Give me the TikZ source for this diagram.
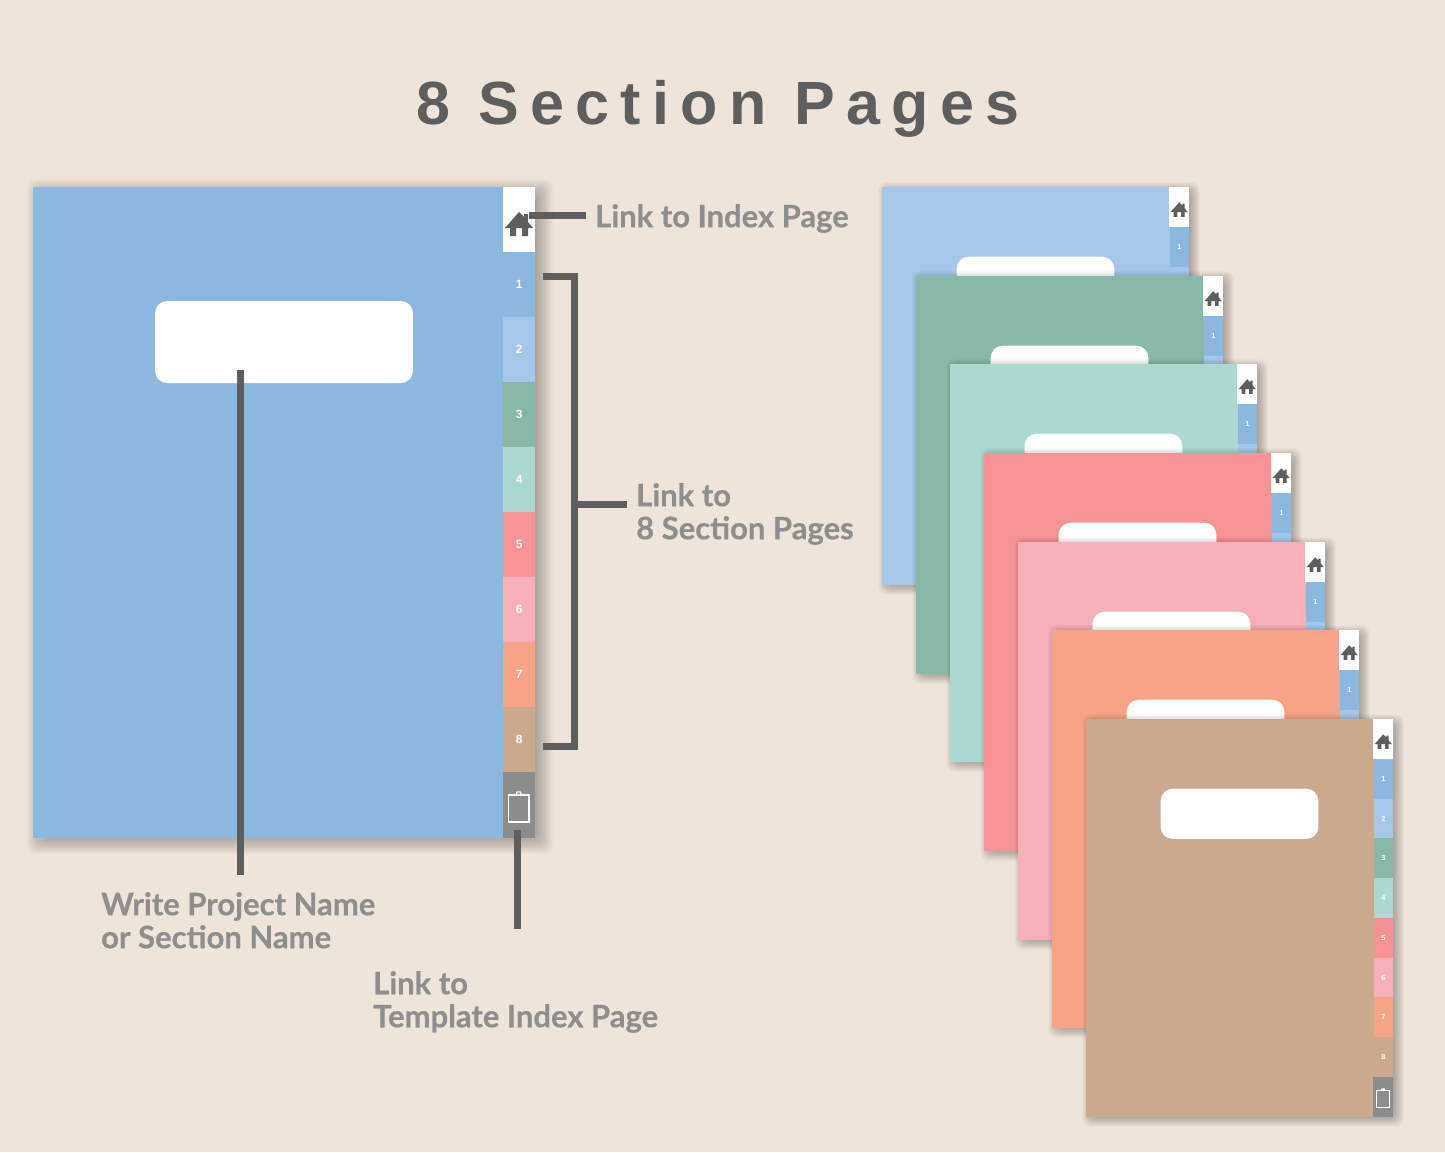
\documentclass[tikz,border=0pt]{standalone}
\usepackage{fontspec}
\setmainfont{Lato}[BoldFeatures={FakeBold=0.5}]
\newfontfamily\titlefont[LetterSpace=18.5]{Liberation Sans}
\newfontfamily\numfont{Liberation Sans}
\definecolor{bgcol}{HTML}{EFE4DA}
\definecolor{bluecol}{HTML}{8AB8DE}
\definecolor{skycol}{HTML}{A5C6E9}
\definecolor{greencol}{HTML}{87B8A8}
\definecolor{mintcol}{HTML}{ABD8D0}
\definecolor{redcol}{HTML}{F59396}
\definecolor{pinkcol}{HTML}{F5B0BA}
\definecolor{orangecol}{HTML}{F7A387}
\definecolor{tancol}{HTML}{CBA98C}
\definecolor{greycol}{HTML}{8C8C8C}
\definecolor{darkcol}{HTML}{5E5E5E}
\definecolor{labelcol}{HTML}{8E8E8E}
\tikzset{
  leader/.style={draw=darkcol,line width=7pt},
  labeltext/.style={text=labelcol,align=left,anchor=north west,inner sep=0pt,font=\fontsize{31}{33}\selectfont\bfseries},
  tabbox/.style={anchor=north west,inner sep=0pt,minimum width=32pt,minimum height=65pt,text=white,font=\fontsize{12}{12}\selectfont\numfont\bfseries}
}
% one section page, drawn at full size: x, y, scale, colour
\newcommand{\sectionpage}[4]{
  \begin{scope}[shift={(#1,-#2)},scale=#3,transform shape]
    \foreach \i in {-5,...,12}
      \fill[black,opacity=.014,rounded corners=8pt] (6-\i,-4+\i) rectangle (508+\i,-655-\i);
    \fill[#4] (0,0) rectangle (502,-651);
    \fill[white,rounded corners=12pt] (122,-114) rectangle (380,-196);
    \fill[white] (470,0) rectangle (502,-65);
    % home icon
    \fill[darkcol] (472,-41) -- (486,-25) -- (491,-30) -- (491,-27) -- (495,-27) -- (495,-35) -- (500,-41) -- (495,-41)
      -- (495,-49) -- (489,-49) -- (489,-41) -- (483,-41) -- (483,-49) -- (477,-49) -- (477,-41) -- cycle;
    \foreach \n/\tabcol in {1/bluecol,2/skycol,3/greencol,4/mintcol,5/redcol,6/pinkcol,7/orangecol,8/tancol}
      \node[tabbox,fill=\tabcol] at (470,-65*\n) {\n};
    \fill[greycol] (470,-585) rectangle (502,-651);
    % clipboard icon
    \draw[white,line width=1.3pt] (475.5,-608) rectangle (496,-635);
    \draw[white,line width=1.2pt] (483,-608) -- (484,-605) -- (487.5,-605) -- (488.5,-608);
  \end{scope}
}
\begin{document}
\begin{tikzpicture}[x=1pt,y=1pt]
  \useasboundingbox (0,0) rectangle (1445,-1152);
  \fill[bgcol] (0,0) rectangle (1445,-1152);
  \node (title) at (718,-109) {\titlefont\fontsize{61}{61}\selectfont\bfseries\color{darkcol}8 Section Pages};

  \sectionpage{33}{187}{1}{bluecol}
  \sectionpage{882}{187}{.6115}{skycol}
  \sectionpage{916}{276}{.6115}{greencol}
  \sectionpage{950}{364}{.6115}{mintcol}
  \sectionpage{984}{453}{.6115}{redcol}
  \sectionpage{1018}{542}{.6115}{pinkcol}
  \sectionpage{1052}{630}{.6115}{orangecol}
  \sectionpage{1086}{719}{.6115}{tancol}

  \node[labeltext] (indexlabel) at (595,-204) {Link to Index Page};
  \node[labeltext] (sectionlabel) at (636,-483) {Link to\\8 Section Pages};
  \node[labeltext] (projectlabel) at (101,-892) {Write Project Name\\or Section Name};
  \node[labeltext] (templatelabel) at (373,-971) {Link to\\Template Index Page};

  \coordinate (homeA) at (529,-215);
  \coordinate (homeB) at (586,-215);
  \coordinate (brackA) at (543,-276.5);
  \coordinate (brackB) at (574,-276.5);
  \coordinate (brackC) at (574,-746);
  \coordinate (brackD) at (543,-746);
  \coordinate (stemA) at (574,-504);
  \coordinate (stemB) at (627,-504);
  \coordinate (projA) at (240,-370);
  \coordinate (projB) at (240,-875);
  \coordinate (tempA) at (517,-830);
  \coordinate (tempB) at (517,-929);
  \draw[leader] (homeA) -- (homeB);
  \draw[leader] (brackA) -- (brackB) -- (brackC) -- (brackD);
  \draw[leader] (stemA) -- (stemB);
  \draw[leader] (projA) -- (projB);
  \draw[leader] (tempA) -- (tempB);
\end{tikzpicture}
\end{document}
